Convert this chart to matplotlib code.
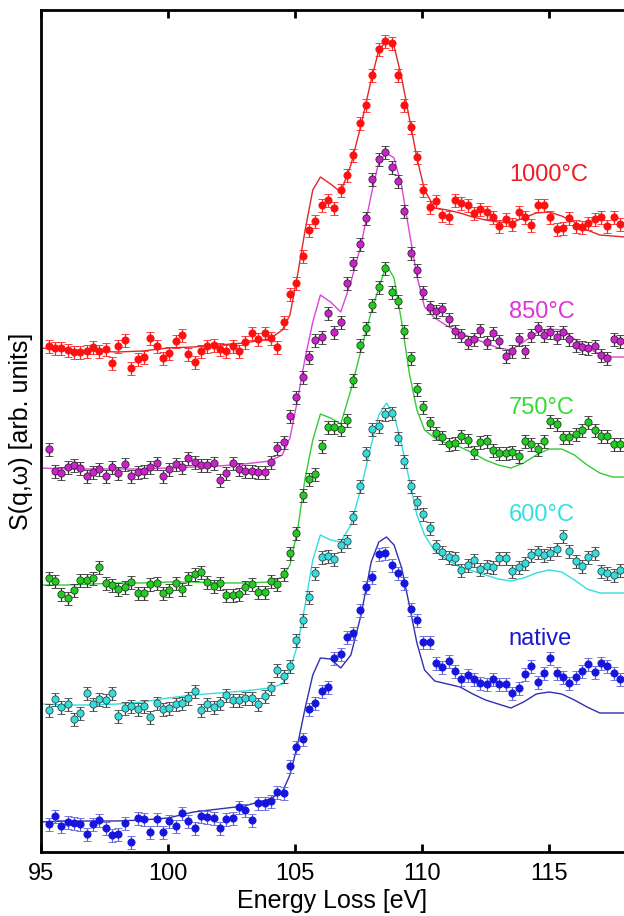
import numpy as np
import matplotlib
matplotlib.use("Agg")
import matplotlib.pyplot as plt

plt.rcParams['font.family'] = ['Liberation Sans', 'DejaVu Sans']

# measured points, 0.25 eV steps
energy = np.round(95.3 + 0.25 * np.arange(91), 2)

red_pts = [506, 504, 504, 502, 500, 500, 501, 505, 501, 503, 489, 506, 512, 484, 493, 495, 514, 506, 494, 499,
           511, 517, 498, 490, 501, 506, 507, 503, 501, 506, 501, 510, 519, 513, 519, 514, 505, 530, 558, 569,
           596, 622, 631, 647, 652, 644, 662, 677, 697, 729, 747, 777, 803, 811, 809, 777, 747, 725, 695, 662,
           645, 651, 637, 635, 652, 649, 647, 639, 643, 640, 635, 626, 633, 628, 640, 635, 627, 647, 647, 635,
           623, 624, 634, 626, 625, 629, 633, 635, 626, 635, 628]
mag_pts = [403, 381, 379, 385, 387, 384, 376, 380, 383, 376, 385, 379, 388, 376, 380, 381, 385, 389, 376, 383,
           388, 385, 394, 390, 387, 387, 389, 372, 379, 389, 383, 381, 381, 380, 380, 390, 404, 410, 436, 455,
           475, 495, 512, 515, 539, 520, 530, 569, 589, 608, 634, 673, 693, 700, 685, 671, 641, 599, 582, 560,
           545, 541, 543, 533, 521, 517, 510, 513, 522, 510, 519, 511, 496, 501, 513, 501, 517, 524, 517, 520,
           515, 520, 513, 507, 505, 504, 506, 497, 494, 513, 511]
grn_pts = [274, 271, 258, 254, 262, 272, 272, 274, 285, 269, 267, 263, 265, 270, 259, 259, 268, 269, 259, 262,
           269, 263, 274, 278, 280, 270, 266, 269, 257, 257, 258, 265, 268, 260, 260, 271, 268, 278, 299, 319,
           357, 373, 378, 406, 425, 425, 423, 432, 472, 507, 524, 547, 565, 584, 560, 551, 521, 494, 463, 445,
           429, 419, 415, 408, 409, 416, 412, 400, 410, 411, 402, 399, 399, 400, 396, 411, 408, 403, 411, 431,
           428, 415, 415, 418, 422, 430, 422, 416, 416, 408, 408]
cyn_pts = [142, 153, 145, 148, 133, 139, 159, 148, 153, 152, 159, 136, 144, 146, 143, 146, 135, 149, 143, 144,
           148, 149, 154, 161, 142, 148, 145, 149, 157, 152, 152, 154, 154, 148, 156, 164, 182, 176, 186, 212,
           232, 255, 279, 295, 296, 293, 307, 311, 335, 366, 399, 423, 426, 438, 439, 414, 391, 366, 350, 338,
           324, 306, 300, 295, 294, 282, 287, 292, 283, 286, 285, 294, 294, 281, 285, 289, 297, 300, 297, 299,
           303, 316, 301, 291, 286, 295, 299, 281, 279, 277, 282]
blu_pts = [28, 36, 26, 30, 29, 28, 18, 28, 32, 24, 17, 18, 29, 10, 34, 33, 20, 33, 20, 31,
           26, 39, 31, 24, 36, 35, 34, 24, 33, 34, 45, 42, 32, 49, 49, 51, 60, 59, 86, 105,
           113, 143, 149, 161, 165, 194, 198, 215, 219, 242, 265, 275, 298, 299, 287, 279, 269, 243, 232, 210,
           210, 189, 185, 191, 181, 173, 177, 173, 169, 168, 173, 168, 168, 159, 164, 178, 186, 170, 179, 194,
           179, 175, 169, 175, 181, 188, 180, 189, 186, 179, 173]

# calculated spectra
th_energy = [95, 96, 97, 98, 99, 100, 101, 102, 103, 104,
             104.5, 104.8, 105.1, 105.4, 105.7, 106.0, 106.4, 106.8, 107.2, 107.6,
             108.0, 108.3, 108.6, 108.9, 109.2, 109.5, 109.8, 110.1, 110.5, 111,
             111.5, 112, 112.5, 113, 113.5, 114, 114.5, 115, 115.5, 116,
             116.5, 117, 117.5, 118]
red_fit = [504, 502, 501, 500, 501, 504, 505, 507, 509, 513, 522, 537, 577, 622, 662, 675, 668, 660, 687, 727,
           772, 802, 811, 806, 774, 734, 694, 662, 644, 642, 639, 635, 632, 630, 629, 634, 639, 640, 636, 630,
           622, 617, 616, 615]
mag_fit = [384, 383, 383, 383, 383, 384, 385, 386, 388, 391, 397, 414, 452, 494, 530, 557, 550, 540, 570, 607,
           657, 690, 699, 694, 666, 620, 576, 545, 534, 526, 519, 514, 509, 504, 502, 510, 519, 523, 522, 513,
           504, 498, 495, 495]
grn_fit = [267, 267, 268, 269, 269, 270, 270, 269, 269, 270, 275, 287, 322, 374, 412, 438, 434, 428, 462, 502,
           540, 564, 587, 574, 530, 479, 442, 422, 414, 408, 405, 399, 392, 387, 384, 389, 397, 403, 403, 397,
           387, 379, 375, 375]
cyn_fit = [148, 147, 147, 148, 150, 154, 157, 159, 161, 164, 168, 182, 207, 247, 292, 317, 312, 310, 327, 364,
           407, 437, 449, 437, 407, 372, 337, 317, 301, 292, 285, 281, 277, 273, 271, 274, 279, 282, 280, 272,
           263, 259, 259, 259]
blu_fit = [30, 31, 31, 31, 32, 34, 40, 43, 46, 53, 60, 77, 107, 144, 177, 194, 193, 184, 197, 237,
           290, 310, 315, 307, 284, 247, 209, 182, 171, 168, 165, 158, 152, 148, 144, 150, 158, 160, 158, 152,
           145, 139, 139, 139]

err = 6.5

labels = ['1000°C', '850°C', '750°C', '600°C', 'native']
label_x = [115.0, 114.7, 114.7, 114.7, 114.65]
label_y = [677, 540, 444, 337, 213]

pts = [red_pts, mag_pts, grn_pts, cyn_pts, blu_pts]
fits = [red_fit, mag_fit, grn_fit, cyn_fit, blu_fit]
face = ['#ff1010', '#cc22cc', '#22cc22', '#33dddd', '#1515dd']
edge = ['#ff1010', '#3a203a', '#204020', '#2a4a4a', '#1515dd']
ebar = ['#ff2020', '#333333', '#333333', '#444444', '#6060d8']
line = ['#e02828', '#dd44dd', '#33cc33', '#33dddd', '#3030b0']
txt = ['#ee1c24', '#dd33dd', '#33dd33', '#33e0e0', '#1a1acc']

fig = plt.figure(figsize=(6.24, 9.16), dpi=100)
ax = fig.add_axes([41 / 624, 64 / 916, 1 - 41 / 624, 842 / 916])

for i in range(5):
    ax.plot(th_energy, fits[i], color=line[i], lw=1.0, zorder=2)
    ax.errorbar(energy, pts[i], yerr=err, fmt='o', ms=5.2, mfc=face[i], mec=edge[i], mew=0.6,
                ecolor=ebar[i], elinewidth=0.9, capsize=2.8, capthick=0.9, zorder=3)
    ax.text(label_x[i], label_y[i], labels[i], color=txt[i], fontsize=17, ha='center', va='center')

ax.set_xlim(95, 95 + 583 / 25.4)
ax.set_ylim(0, 842)
ax.set_xticks([95, 100, 105, 110, 115])
ax.set_yticks([])
ax.spines['right'].set_visible(False)
for s in ['left', 'top', 'bottom']:
    ax.spines[s].set_linewidth(2)
ax.tick_params(axis='x', direction='in', top=True, length=6, width=2, labelsize=17, pad=8)
ax.set_xlabel('Energy Loss [eV]', fontsize=18, labelpad=3)
ax.set_ylabel('S(q,ω) [arb. units]', fontsize=18, labelpad=6)

fig.savefig('out.png', dpi=100)
